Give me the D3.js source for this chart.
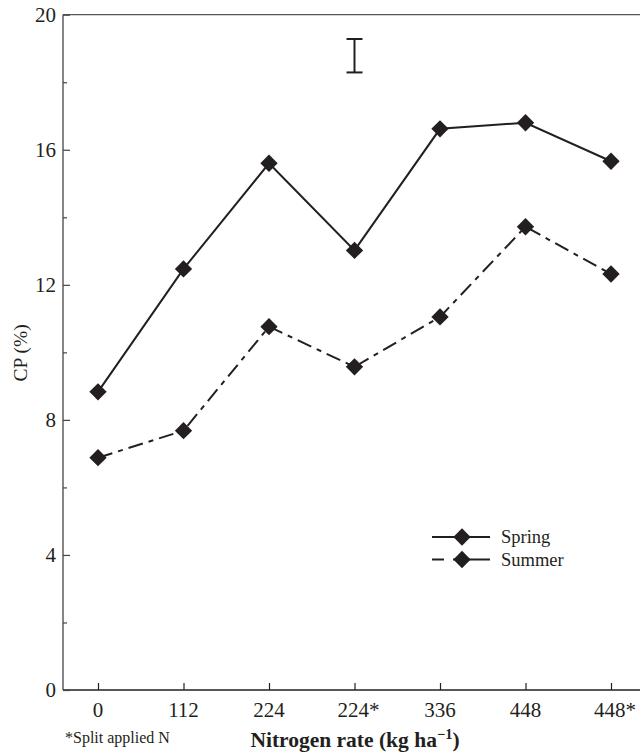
<!DOCTYPE html>
<html><head><meta charset="utf-8">
<script src="https://cdn.jsdelivr.net/npm/d3@7"></script>
<style>body{margin:0;background:#fff}</style>
</head><body>
<script>
const categories = ["0","112","224","224*","336","448","448*"];
const spring = [8.83, 12.47, 15.6, 13.02, 16.62, 16.8, 15.66];
const summer = [6.88, 7.68, 10.76, 9.57, 11.05, 13.72, 12.32];
const yTicks = [0,4,8,12,16,20];
const yMinor = [2,6,10,14,18];
const lsdBar = {cat: "224*", low: 18.29, high: 19.28};
const seriesNames = ["Spring","Summer"];

const W=640,H=752;
const svg=d3.select("body").append("svg").attr("width",W).attr("height",H);
const ink="#231f20";
const font="'Liberation Serif','Times New Roman',serif";

const x=d3.scalePoint().domain(categories).range([98,611]);
const y=d3.scaleLinear().domain([0,20]).range([690,14.7]);

// axes
const g=svg.append("g");
g.append("line").attr("x1",63).attr("x2",640).attr("y1",y(20)).attr("y2",y(20)).attr("stroke","#555").attr("stroke-width",1.3);
g.append("line").attr("x1",63).attr("x2",640).attr("y1",y(0)).attr("y2",y(0)).attr("stroke",ink).attr("stroke-width",1.3);
g.append("line").attr("x1",63).attr("x2",63).attr("y1",y(0)).attr("y2",y(20)).attr("stroke","#444").attr("stroke-width",1.3);

const yAxis=d3.axisRight(y).tickValues(yTicks).tickSize(7).tickFormat("");
svg.append("g").attr("transform","translate(63,0)").call(yAxis).call(s=>{s.select(".domain").remove();s.selectAll("line").attr("stroke","#444").attr("stroke-width",1.2);});
const yAxisMinor=d3.axisRight(y).tickValues(yMinor).tickSize(4).tickFormat("");
svg.append("g").attr("transform","translate(63,0)").call(yAxisMinor).call(s=>{s.select(".domain").remove();s.selectAll("line").attr("stroke","#444").attr("stroke-width",1.2);});
svg.append("g").selectAll("text").data(yTicks).join("text")
  .attr("x",56).attr("y",d=>y(d)+7).attr("text-anchor","end")
  .attr("font-family",font).attr("font-size",21).attr("fill",ink).text(d=>d);

const xAxis=d3.axisTop(x).tickSize(7).tickFormat("");
svg.append("g").attr("transform",`translate(0,${y(0)})`).call(xAxis).call(s=>{s.select(".domain").remove();s.selectAll("line").attr("stroke",ink).attr("stroke-width",1.2);});
svg.append("g").selectAll("text").data(categories).join("text")
  .attr("x",d=>x(d)+(d.endsWith("*")?4:0)).attr("y",717).attr("text-anchor","middle")
  .attr("font-family",font).attr("font-size",21).attr("fill",ink).text(d=>d);

// titles
svg.append("text").attr("transform","translate(27,353) rotate(-90)").attr("text-anchor","middle")
  .attr("font-family",font).attr("font-size",19.5).attr("fill",ink).text("CP (%)");
const xt=svg.append("text").attr("x",355).attr("y",747).attr("text-anchor","middle")
  .attr("font-family",font).attr("font-size",21.5).attr("font-weight","bold").attr("fill",ink);
xt.append("tspan").text("Nitrogen rate (kg ha");
xt.append("tspan").attr("dy",-8).attr("font-size",14.5).text("\u22121");
xt.append("tspan").attr("dy",8).text(")");
svg.append("text").attr("x",65).attr("y",743).attr("font-family",font).attr("font-size",16).attr("fill",ink).text("*Split applied N");

// lines
const line=d3.line().x((d,i)=>x(categories[i])).y(d=>y(d));
svg.append("path").datum(spring).attr("d",line).attr("fill","none").attr("stroke",ink).attr("stroke-width",2);
svg.append("path").datum(summer).attr("d",line).attr("fill","none").attr("stroke",ink).attr("stroke-width",2).attr("stroke-dasharray","15,6,5,6");

const diamond=d3.symbol().type(d3.symbolSquare).size(150);
[spring,summer].forEach(s=>{
  svg.append("g").selectAll("path").data(s).join("path")
    .attr("d",diamond).attr("transform",(d,i)=>`translate(${x(categories[i])},${y(d)}) rotate(45)`)
    .attr("fill",ink);
});

// LSD bar
const bx=x(lsdBar.cat);
const lb=svg.append("g").attr("stroke",ink).attr("stroke-width",2);
lb.append("line").attr("x1",bx).attr("x2",bx).attr("y1",y(lsdBar.low)).attr("y2",y(lsdBar.high));
lb.append("line").attr("x1",bx-8).attr("x2",bx+8).attr("y1",y(lsdBar.low)).attr("y2",y(lsdBar.low));
lb.append("line").attr("x1",bx-8).attr("x2",bx+8).attr("y1",y(lsdBar.high)).attr("y2",y(lsdBar.high));

// legend
const lg=svg.append("g");
seriesNames.forEach((n,i)=>{
  const ly=537+i*22.5;
  lg.append("line").attr("x1",432).attr("x2",490).attr("y1",ly).attr("y2",ly).attr("stroke",ink).attr("stroke-width",2)
    .attr("stroke-dasharray",i===1?"12,9,40":null);
  lg.append("path").attr("d",diamond).attr("transform",`translate(462,${ly}) rotate(45)`).attr("fill",ink);
  lg.append("text").attr("x",501).attr("y",ly+6).attr("font-family",font).attr("font-size",18.5).attr("fill",ink).text(n);
});
</script>
</body></html>
